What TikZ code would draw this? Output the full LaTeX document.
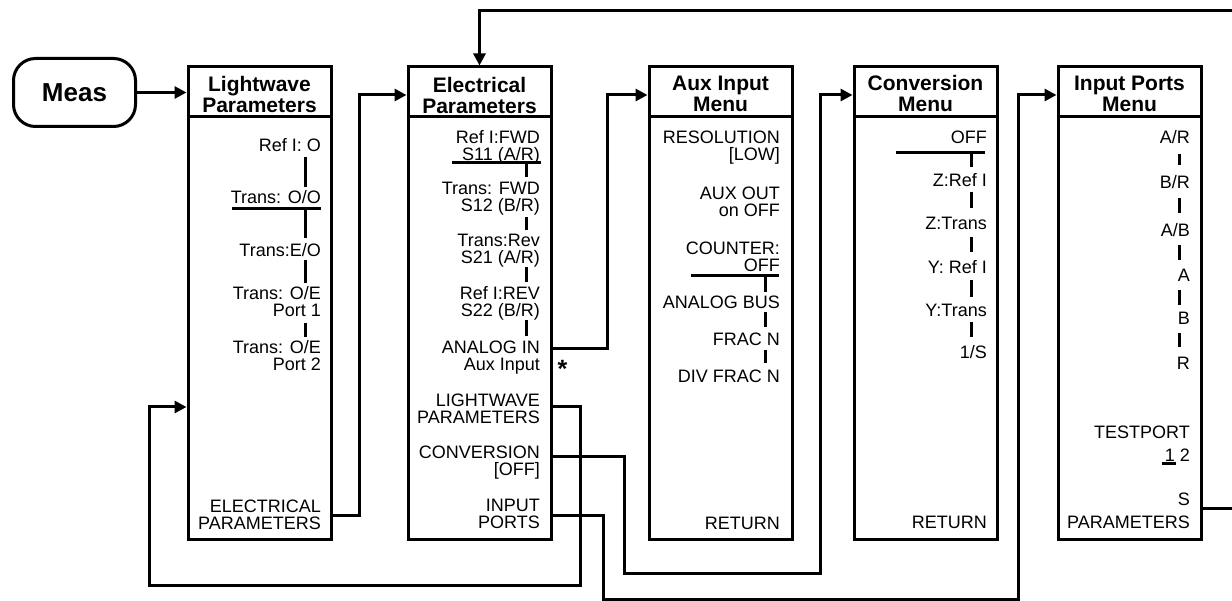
\documentclass[tikz,border=0pt]{standalone}
\usepackage{fontspec}
\setmainfont{Liberation Sans}
\usetikzlibrary{arrows.meta}
\tikzset{
  menubox/.style={draw, line width=3pt, inner sep=0pt, minimum width=143, minimum height=472},
  measbox/.style={draw, line width=3pt, rounded corners=22pt, inner sep=0pt, minimum width=122, minimum height=68, font=\bfseries\fontsize{26}{26}\selectfont},
  item/.style={anchor=north east, inner sep=0pt, align=right, font=\fontsize{18}{17}\selectfont},
  ttl/.style={anchor=north, inner sep=0pt, align=center, font=\bfseries\fontsize{21}{21}\selectfont},
  bar/.style={line width=3pt},
  wire/.style={line width=3pt},
  arr/.style={-{Triangle[length=12pt,width=12pt]}}
}
\begin{document}
\begin{tikzpicture}[x=1pt,y=-1pt]
\useasboundingbox (0,0) rectangle (1232,601);
% boxes
\node[measbox] (meas) at (74.5,92.5) {Meas};
\node[menubox] (lw) at (259.5,303) {};
\node[menubox] (el) at (479.5,303) {};
\node[menubox] (aux) at (720.5,303) {};
\node[menubox] (conv) at (925.5,303) {};
\node[menubox] (ip) at (1129.5,303) {};
\foreach \b in {lw,el,aux,conv,ip}{
  \draw[line width=3pt] (\b.west |- 0,117) -- (\b.east |- 0,117);
}
% titles
\node[ttl] (lwT) at (lw.center |- 0,76) {Lightwave\\Parameters};
\node[ttl] (elT) at (el.center |- 0,77) {Electrical\\Parameters};
\node[ttl] (auxT) at (aux.center |- 0,76) {Aux Input\\Menu};
\node[ttl] (convT) at (conv.center |- 0,75) {Conversion\\Menu};
\node[ttl] (ipT) at (ip.center |- 0,76) {Input Ports\\Menu};
% Lightwave items
\node[item] (lw1) at (321,138.5) {Ref I: O};
\node[item] (lw2) at (321,190.5) {Trans: O/O};
\node[item] (lw3) at (321,243.5) {Trans:E/O};
\node[item] (lw4) at (321,286.5) {Trans: O/E\\Port 1};
\node[item] (lw5) at (321,340.5) {Trans: O/E\\Port 2};
\node[item] (lw6) at (321,499.5) {ELECTRICAL\\PARAMETERS};
\draw[bar] (232,209) -- (321,209);
\draw[bar] (305,157) -- (305,187);
\draw[bar] (305,209) -- (305,238);
\draw[bar] (305,260) -- (305,283);
\draw[bar] (305,323) -- (305,337);
% Electrical items
\node[item] (el1) at (540,130.5) {Ref I:FWD\\S11 (A/R)};
\node[item] (el2) at (540,181.5) {Trans: FWD\\S12 (B/R)};
\node[item] (el3) at (540,233.5) {Trans:Rev\\S21 (A/R)};
\node[item] (el4) at (540,286.5) {Ref I:REV\\S22 (B/R)};
\node[item] (el5) at (540,340.5) {ANALOG IN\\Aux Input};
\node[item] (el6) at (540,393.5) {LIGHTWAVE\\PARAMETERS};
\node[item] (el7) at (540,445.5) {CONVERSION\\{}[OFF]};
\node[item] (el8) at (540,498.5) {INPUT\\PORTS};
\node[anchor=north, inner sep=0pt, font=\bfseries\fontsize{25}{25}\selectfont] (ast) at (562.5,360) {*};
\draw[bar] (452,163) -- (541,163);
\draw[bar] (526,163) -- (526,177);
\draw[bar] (526,217) -- (526,230);
\draw[bar] (526,267) -- (526,282);
\draw[bar] (526,320) -- (526,336);
% Aux items
\node[item] (aux1) at (780,130.5) {RESOLUTION\\{}[LOW]};
\node[item] (aux2) at (780,186.5) {AUX OUT\\on OFF};
\node[item] (aux3) at (780,241.5) {COUNTER:\\OFF};
\node[item] (aux4) at (780,295.5) {ANALOG BUS};
\node[item] (aux5) at (780,332.5) {FRAC N};
\node[item] (aux6) at (780,369.5) {DIV FRAC N};
\node[item] (aux7) at (780,516.5) {RETURN};
\draw[bar] (691,276) -- (779,276);
\draw[bar] (765,276) -- (765,292);
\draw[bar] (765,312) -- (765,327);
\draw[bar] (765,350) -- (765,363);
% Conversion items
\node[item] (cv1) at (987,130.5) {OFF};
\node[item] (cv2) at (987,173.5) {Z:Ref I};
\node[item] (cv3) at (987,216.5) {Z:Trans};
\node[item] (cv4) at (987,260.5) {Y: Ref I};
\node[item] (cv5) at (987,303.5) {Y:Trans};
\node[item] (cv6) at (987,345.5) {1/S};
\node[item] (cv7) at (987,515.5) {RETURN};
\draw[bar] (896,153) -- (985,153);
\draw[bar] (971,153) -- (971,167);
\draw[bar] (971,192) -- (971,208);
\draw[bar] (971,237) -- (971,252);
\draw[bar] (971,280) -- (971,297);
\draw[bar] (971,322) -- (971,337);
% Input ports items
\node[item] (ip1) at (1190,130.5) {A/R};
\node[item] (ip2) at (1190,175.5) {B/R};
\node[item] (ip3) at (1190,223.5) {A/B};
\node[item] (ip4) at (1190,268.5) {A};
\node[item] (ip5) at (1190,311.5) {B};
\node[item] (ip6) at (1190,356.5) {R};
\node[item] (ip7) at (1190,425.5) {TESTPORT};
\node[item] (ip8) at (1190,448.5) {1 2};
\node[item] (ip9) at (1190,492.5) {S};
\node[item] (ip10) at (1190,515.5) {PARAMETERS};
\draw[bar] (1179,154) -- (1179,165);
\draw[bar] (1179,198) -- (1179,213);
\draw[bar] (1179,245) -- (1179,260);
\draw[bar] (1179,290) -- (1179,305);
\draw[bar] (1179,333) -- (1179,347);
\draw[bar] (1162,464) -- (1176,464);
% connectors
\draw[wire,arr] (meas.east) -- (meas.east -| lw.west);
\draw[wire,arr] (lw.east |- 0,515) -- (359,515) -- (359,95) -- (el.west |- 0,95);
\draw[wire,arr] (ip.east |- 0,508) -- (1245,508) -- (1245,11) -- (el.north |- 0,11) -- (el.north);
\draw[wire,arr] (el.east |- 0,349) -- (607,349) -- (607,95) -- (aux.west |- 0,95);
\draw[wire,arr] (el.east |- 0,407) -- (580,407) -- (580,585) -- (149,585) -- (149,407) -- (lw.west |- 0,407);
\draw[wire,arr] (el.east |- 0,457) -- (624,457) -- (624,573) -- (820,573) -- (820,95) -- (conv.west |- 0,95);
\draw[wire,arr] (el.east |- 0,515) -- (603,515) -- (603,599) -- (1018,599) -- (1018,95) -- (ip.west |- 0,95);
\end{tikzpicture}
\end{document}
